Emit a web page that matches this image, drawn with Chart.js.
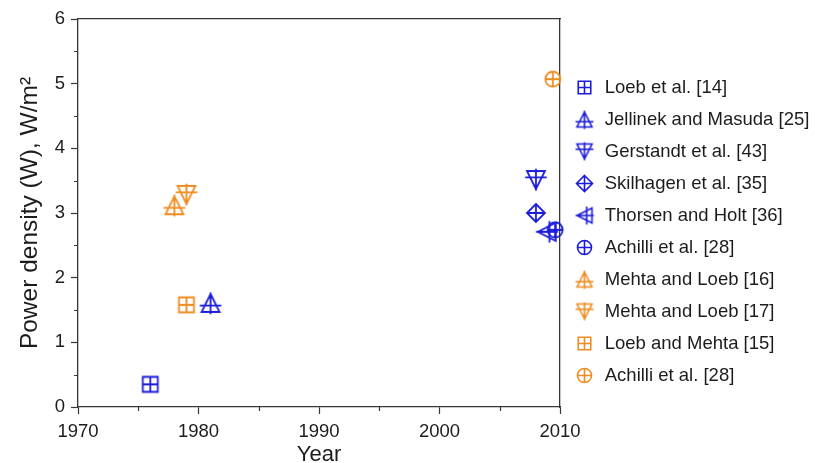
<!DOCTYPE html>
<html>
<head>
<meta charset="utf-8">
<script src="https://cdn.jsdelivr.net/npm/chart.js@4/dist/chart.umd.min.js"></script>
<style>
  html, body { margin: 0; padding: 0; background: #ffffff; }
  #wrap { width: 815px; height: 463px; }
</style>
</head>
<body>
<div id="wrap"><canvas id="chart" width="815" height="463"></canvas></div>
<script>
// Published power density estimates by year
const seriesNames = [
  'Loeb et al. [14]',
  'Jellinek and Masuda [25]',
  'Gerstandt et al. [43]',
  'Skilhagen et al. [35]',
  'Thorsen and Holt [36]',
  'Achilli et al. [28]',
  'Mehta and Loeb [16]',
  'Mehta and Loeb [17]',
  'Loeb and Mehta [15]',
  'Achilli et al. [28]'
];
const seriesYears  = [1976, 1981, 2008, 2008, 2008.9, 2009.6, 1978, 1979, 1979, 2009.4];
const seriesValues = [0.35, 1.61, 3.51, 3.0, 2.71, 2.74, 3.12, 3.28, 1.58, 5.07];
const seriesShapes = ['square', 'triUp', 'triDown', 'diamond', 'triLeft', 'circle',
                      'triUp', 'triDown', 'square', 'circle'];
const seriesGroups = ['blue', 'blue', 'blue', 'blue', 'blue', 'blue',
                      'orange', 'orange', 'orange', 'orange'];

const xTickYears   = [1970, 1980, 1990, 2000, 2010];
const xMinorYears  = [1975, 1985, 1995, 2005];
const yTickValues  = [0, 1, 2, 3, 4, 5, 6];
const yMinorValues = [0.5, 1.5, 2.5, 3.5, 4.5, 5.5];

const COLORS = { blue: '#1c1cd8', orange: '#ef8c20' };
const AXIS = '#363636';
const TEXT = '#1c1c1c';
const FONT = "'Liberation Sans', Arial, Helvetica, sans-serif";

// Outline markers with a plus drawn through them
const SIZES = {
  plot:   { square: 15, circle: 15, diamond: 18, tri: 18 },
  legend: { square: 12.5, circle: 14, diamond: 16, tri: 15 }
};

function markerCanvas(shape, color, sizes, lw) {
  const s = shape.startsWith('tri') ? sizes.tri : sizes[shape];
  const dim = Math.ceil(s * 1.3 + 6);
  const c = document.createElement('canvas');
  c.width = dim; c.height = dim;
  const g = c.getContext('2d');
  g.translate(dim / 2, dim / 2);
  g.strokeStyle = color;
  g.lineWidth = lw;
  g.lineJoin = 'miter';
  g.lineCap = 'butt';
  const r = s / 2;
  g.beginPath();
  if (shape === 'square') {
    g.rect(-r, -r, 2 * r, 2 * r);
    g.moveTo(-r, 0); g.lineTo(r, 0);
    g.moveTo(0, -r); g.lineTo(0, r);
  } else if (shape === 'circle') {
    g.arc(0, 0, r, 0, Math.PI * 2);
    g.moveTo(-r, 0); g.lineTo(r, 0);
    g.moveTo(0, -r); g.lineTo(0, r);
  } else if (shape === 'diamond') {
    g.moveTo(0, -r); g.lineTo(r, 0); g.lineTo(0, r); g.lineTo(-r, 0); g.closePath();
    g.moveTo(-r, 0); g.lineTo(r, 0);
    g.moveTo(0, -r); g.lineTo(0, r);
  } else {
    const rot = shape === 'triDown' ? Math.PI : (shape === 'triLeft' ? -Math.PI / 2 : 0);
    g.rotate(rot);
    g.moveTo(0, -r); g.lineTo(r, r); g.lineTo(-r, r); g.closePath();
    g.moveTo(-r * 1.2, r * 0.3); g.lineTo(r * 1.2, r * 0.3);
    g.moveTo(0, -r * 1.18); g.lineTo(0, r * 1.25);
  }
  g.stroke();
  return c;
}

const plotMarkers = seriesShapes.map((sh, i) =>
  markerCanvas(sh, COLORS[seriesGroups[i]], SIZES.plot, 1.8));
const legendMarkers = seriesShapes.map((sh, i) =>
  markerCanvas(sh, COLORS[seriesGroups[i]], SIZES.legend, 1.6));

const datasets = seriesNames.map((name, i) => ({
  label: name,
  data: [{ x: seriesYears[i], y: seriesValues[i] }],
  pointStyle: plotMarkers[i],
  pointRadius: 9,
  pointHoverRadius: 9,
  showLine: false,
  clip: false
}));

// Short minor ticks on the two main axes
const minorTicks = {
  id: 'minorTicks',
  afterDraw(chart) {
    const { ctx, chartArea: a, scales: { x, y } } = chart;
    ctx.save();
    ctx.strokeStyle = AXIS;
    ctx.lineWidth = 1.2;
    ctx.beginPath();
    xMinorYears.forEach(v => {
      const px = Math.round(x.getPixelForValue(v)) + 0.5;
      ctx.moveTo(px, a.bottom); ctx.lineTo(px, a.bottom + 4);
    });
    yMinorValues.forEach(v => {
      const py = Math.round(y.getPixelForValue(v)) + 0.5;
      ctx.moveTo(a.left, py); ctx.lineTo(a.left - 4, py);
    });
    ctx.stroke();
    ctx.restore();
  }
};

new Chart(document.getElementById('chart'), {
  type: 'scatter',
  data: { datasets },
  options: {
    responsive: false,
    devicePixelRatio: 1,
    animation: false,
    events: [],
    layout: { padding: 0 },
    scales: {
      x: {
        type: 'linear', position: 'bottom', min: 1970, max: 2010,
        afterBuildTicks: s => { s.ticks = xTickYears.map(v => ({ value: v })); },
        afterFit: s => { s.height = 56; },
        grid: { drawOnChartArea: false, drawTicks: true, tickLength: 7, tickColor: AXIS, tickWidth: 1.2 },
        border: { display: true, color: AXIS, width: 1.3 },
        ticks: { color: TEXT, font: { family: FONT, size: 18.5 }, padding: 7, maxRotation: 0, autoSkip: false,
                 callback: v => String(v) },
        title: { display: true, text: 'Year', color: TEXT,
                 font: { family: FONT, size: 22, lineHeight: 1 }, padding: { top: 0, bottom: -3 } }
      },
      xTop: {
        type: 'linear', position: 'top', min: 1970, max: 2010,
        afterFit: s => { s.height = 19; },
        grid: { drawOnChartArea: false, drawTicks: false },
        border: { display: true, color: AXIS, width: 1.3 },
        ticks: { display: false }
      },
      y: {
        type: 'linear', position: 'left', min: 0, max: 6,
        afterBuildTicks: s => { s.ticks = yTickValues.map(v => ({ value: v })); },
        afterFit: s => { s.width = 78; },
        grid: { drawOnChartArea: false, drawTicks: true, tickLength: 7, tickColor: AXIS, tickWidth: 1.2 },
        border: { display: true, color: AXIS, width: 1.3 },
        ticks: { color: TEXT, font: { family: FONT, size: 18.5 }, padding: 6, callback: v => String(v) },
        title: { display: true, text: 'Power density (W), W/m²', color: TEXT,
                 font: { family: FONT, size: 24.5 }, padding: { top: 16, bottom: 0 } }
      },
      yRight: {
        type: 'linear', position: 'right', min: 0, max: 6,
        afterFit: s => { s.width = 0; },
        grid: { drawOnChartArea: false, drawTicks: false },
        border: { display: true, color: AXIS, width: 1.3 },
        ticks: { display: false }
      }
    },
    plugins: {
      tooltip: { enabled: false },
      legend: {
        position: 'right',
        align: 'center',
        maxWidth: 255,
        labels: {
          usePointStyle: true,
          pointStyleWidth: 22,
          padding: 13.5,
          color: TEXT,
          font: { family: FONT, size: 18.5 },
          generateLabels: chart => chart.data.datasets.map((ds, i) => ({
            text: ds.label,
            pointStyle: legendMarkers[i],
            fillStyle: 'transparent',
            strokeStyle: 'transparent',
            lineWidth: 0,
            fontColor: TEXT,
            hidden: false,
            datasetIndex: i
          }))
        }
      }
    }
  },
  plugins: [minorTicks]
});
</script>
</body>
</html>
